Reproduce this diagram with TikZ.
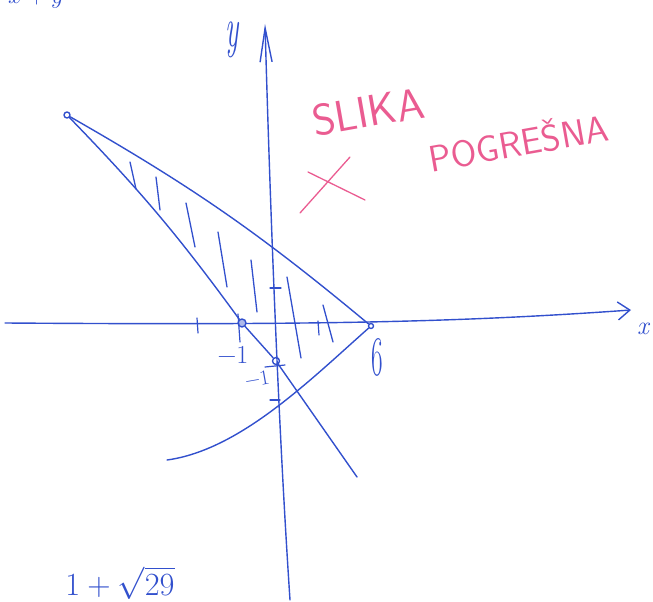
\documentclass[tikz,border=0pt]{standalone}
\usetikzlibrary{arrows.meta,positioning,calc}
\definecolor{pen}{RGB}{50,80,205}
\definecolor{redpen}{RGB}{234,92,145}

\begin{document}
\begin{tikzpicture}[x=1pt, y=-1pt, line cap=round, line join=round,
stroke/.style={draw=pen, line width=1.4pt},
hatch/.style={draw=pen, line width=1.3pt},
tickmark/.style={draw=pen, line width=1.2pt},
dot/.style={circle, draw=pen, line width=1.4pt, inner sep=0pt, minimum size=6pt},
lbl/.style={text=pen, inner sep=0pt},
note/.style={text=redpen, inner sep=0pt, rotate=10, font=\sffamily}]
\useasboundingbox (0,0) rectangle (653,602);
\coordinate (xl) at (5,323); \coordinate (xr) at (631,310);
\coordinate (yb) at (290,600); \coordinate (yt) at (265,24);
\draw[stroke, -{Straight Barb[length=12pt, width=18pt]}] (xl) .. controls (300,325) and (450,323) .. (xr);
\draw[stroke, -{Straight Barb[length=34pt, width=12pt]}] (yb) .. controls (278,420) and (270,200) .. (yt);
\node[dot] (A) at (67,115) {};
\node[dot, fill=pen!40, minimum size=8pt] (P1) at (242,323) {};
\node[dot, minimum size=5pt] (P6) at (371,326) {};
\node[dot, minimum size=7pt] (Q1) at (276,361) {};
\coordinate (lend) at (357,477);
\coordinate (pend) at (167,460);
\draw[stroke] (A) to[bend left=5] (P6);
\draw[stroke] (A) to[bend left=4] (P1);
\draw[stroke] (P1) -- (Q1) -- (lend);
\draw[stroke] (P6) .. controls (310,380) and (240,450) .. (pend);
\foreach \a/\b/\c/\d in {130/162/136/189, 156/177/160/210, 186/203/195/247, 218/232/227/287,
  251/260/257/312, 287/277/301/358, 323/305/333/342}
  \draw[hatch] (\a,\b) -- (\c,\d);
\foreach \a/\b/\c/\d in {197/318/198/333, 318/321/319/335, 270/288/281/288, 270/400/280/400,
  238/314/240/342, 265/367/285/365}
  \draw[tickmark] (\a,\b) -- (\c,\d);
\node[lbl, font=\itshape\fontsize{56}{56}\selectfont, xscale=0.5] (ylab) at (232,40) {y};
\node[lbl, font=\itshape\fontsize{26}{26}\selectfont] (xlab) at (643,329) {x};
\node[lbl, font=\fontsize{26}{26}\selectfont] (m1x) at (233,355) {−1};
\node[lbl, font=\fontsize{21}{21}\selectfont, rotate=10] (m1y) at (257,379) {−1};
\node[lbl, font=\fontsize{56}{56}\selectfont, xscale=0.45] (six) at (377,357) {6};
\node[lbl, font=\fontsize{24}{24}\selectfont, anchor=north] (root) at (120,566) {\scalebox{1.3}{$1+\sqrt{29}$}};
\node[lbl, font=\fontsize{24}{24}\selectfont, anchor=base west] (top) at (8,4) {$x+y$};
\node[note, font=\sffamily\fontsize{44}{44}\selectfont] (slika) at (368,112) {SLIKA};
\node[note, font=\sffamily\fontsize{37}{37}\selectfont] (pogr) at (518,141) {POGREŠNA};
\draw[draw=redpen, line width=1.3pt] (308,172) -- (365,200) (350,157) -- (300,213);
\end{tikzpicture}
\end{document}
